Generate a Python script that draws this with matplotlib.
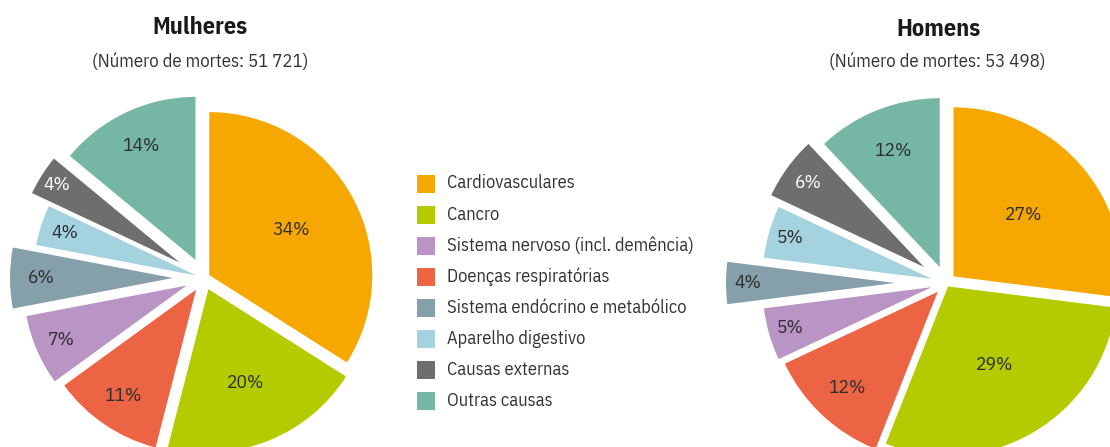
import matplotlib
matplotlib.use('Agg')
import matplotlib.pyplot as plt
from matplotlib.patches import Rectangle
import numpy as np

plt.rcParams['font.family'] = ['IBM Plex Sans Condensed', 'Open Sans', 'DejaVu Sans']
plt.rcParams['font.stretch'] = 'condensed'

# categorias na ordem da legenda
causas = ['Cardiovasculares', 'Cancro', 'Sistema nervoso (incl. demência)',
          'Doenças respiratórias', 'Sistema endócrino e metabólico',
          'Aparelho digestivo', 'Causas externas', 'Outras causas']
cores = ['#F6A800', '#B4CB00', '#BA94C5', '#EC6443',
         '#85A0AB', '#A4D2DE', '#6E6E6E', '#76B6A5']

# percentagens (ordem da legenda)
mulheres = [34, 20, 7, 11, 6, 4, 4, 14]
homens = [27, 29, 5, 12, 4, 5, 6, 12]
mortes_mulheres = '51 721'
mortes_homens = '53 498'

# ordem das fatias, sentido horario a partir das 12h
ordem = [0, 1, 3, 2, 4, 5, 6, 7]

W, H = 1110, 447
fig = plt.figure(figsize=(W / 100, H / 100), dpi=100)


def pizza(vals, cx, cy, r, expl_px, dist):
    ax = fig.add_axes([0, 0, 1, 1])
    v = [vals[i] for i in ordem]
    c = [cores[i] for i in ordem]
    wedges, _ = ax.pie(v, colors=c, startangle=90, counterclock=False,
                       explode=[e / r for e in expl_px], radius=1,
                       wedgeprops=dict(linewidth=0))
    for w, val, d, col in zip(wedges, v, dist, c):
        th = np.deg2rad((w.theta1 + w.theta2) / 2)
        x = w.center[0] + d * np.cos(th)
        y = w.center[1] + d * np.sin(th)
        ax.text(x, y, f'{val}%', ha='center', va='center', fontsize=14,
                color='white' if col == '#6E6E6E' else '#2e2e2e')
    ax.set_xlim(-cx / r, (W - cx) / r)
    ax.set_ylim(-(H - cy) / r, cy / r)
    ax.set_aspect('auto')
    ax.set_facecolor('none')
    ax.axis('off')
    return ax


pizza(mulheres, 204, 278, 163,
      [6, 12, 14, 19, 31, 8, 29, 20],
      [0.57, 0.62, 0.79, 0.84, 0.81, 0.85, 0.89, 0.77])
pizza(homens, 946, 283, 169,
      [10, 4, 12, 15, 51, 15, 27, 17],
      [0.55, 0.54, 0.78, 0.87, 0.87, 0.87, 0.85, 0.74])

# titulos
fig.text(200 / W, 1 - 28 / H, 'Mulheres', ha='center', va='center',
         fontsize=17.5, fontweight='bold', color='#1a1a1a')
fig.text(200 / W, 1 - 62 / H, f'(Número de mortes: {mortes_mulheres})',
         ha='center', va='center', fontsize=13.5, color='#333333')
fig.text(938 / W, 1 - 29 / H, 'Homens', ha='center', va='center',
         fontsize=17.5, fontweight='bold', color='#1a1a1a')
fig.text(937 / W, 1 - 62 / H, f'(Número de mortes: {mortes_homens})',
         ha='center', va='center', fontsize=13.5, color='#333333')

# legenda
lg = fig.add_axes([0, 0, 1, 1])
lg.set_xlim(0, W)
lg.set_ylim(H, 0)
lg.axis('off')
for i, (nome, cor) in enumerate(zip(causas, cores)):
    y = 183.5 + i * 31.1
    lg.add_patch(Rectangle((417, y - 9), 18, 18, facecolor=cor, lw=0))
    lg.text(447, y, nome, va='center', ha='left', fontsize=13.2, color='#333333')

fig.savefig('out.png', dpi=100)
